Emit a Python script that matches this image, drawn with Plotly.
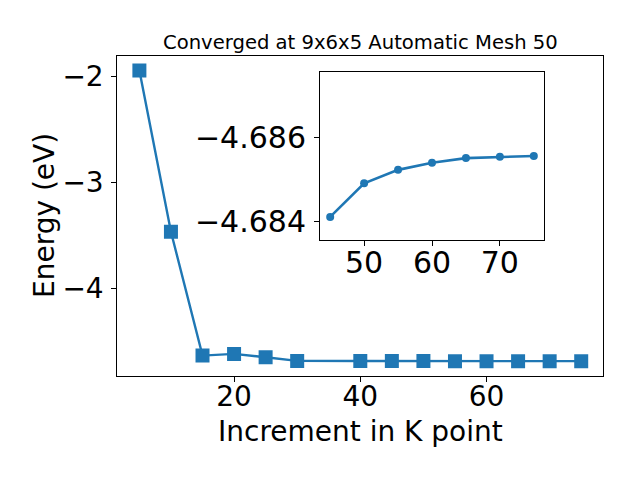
import plotly.graph_objects as go

# Main series
kpts = [5, 10, 15, 20, 25, 30, 40, 45, 50, 55, 60, 65, 70, 75]
energy = [-1.947, -3.466, -4.633, -4.617, -4.649, -4.683, -4.6838,
          -4.68410, -4.68490, -4.68522, -4.68539, -4.68550, -4.68553, -4.68555]

# Inset series
inset_k = [45, 50, 55, 60, 65, 70, 75]
inset_e = [-4.68410, -4.68490, -4.68522, -4.68539, -4.68550, -4.68553, -4.68555]

main_xticks = [20, 40, 60]
main_yticks = [-2, -3, -4]
inset_xticks = [50, 60, 70]
inset_yticks = [-4.686, -4.684]

title_text = "Converged at 9x6x5 Automatic Mesh 50"
xlabel = "Increment in K point"
ylabel = "Energy (eV)"

C = "#1f77b4"
FONT = "DejaVu Sans"


def minus(s):
    return s.replace("-", "\u2212")


fig = go.Figure()
fig.add_trace(go.Scatter(x=kpts, y=energy, mode="lines+markers",
                         line=dict(color=C, width=2.4),
                         marker=dict(symbol="square", size=14, color=C),
                         xaxis="x", yaxis="y", showlegend=False))
fig.add_trace(go.Scatter(x=inset_k, y=inset_e, mode="lines+markers",
                         line=dict(color=C, width=2.6),
                         marker=dict(symbol="circle", size=8, color=C),
                         xaxis="x2", yaxis="y2", showlegend=False))

ymin, ymax = min(energy), max(energy)
pad = (ymax - ymin) * 0.05
xpad = (max(kpts) - min(kpts)) * 0.05
ixpad = (max(inset_k) - min(inset_k)) * 0.05

axis_common = dict(showgrid=False, zeroline=False, showline=True, linecolor="black",
                   linewidth=1, mirror=True, ticks="outside", ticklen=5, tickwidth=1,
                   tickcolor="black", automargin=False)
main_font = dict(family=FONT, size=28, color="black")
inset_font = dict(family=FONT, size=30, color="black")

fig.update_layout(
    width=640, height=480,
    margin=dict(l=0, r=0, t=0, b=0, autoexpand=False),
    paper_bgcolor="white", plot_bgcolor="white",
    xaxis=dict(domain=[117.3 / 640, 603.3 / 640], anchor="y",
               range=[min(kpts) - xpad, max(kpts) + xpad],
               tickvals=main_xticks, ticktext=[str(v) for v in main_xticks],
               ticklabelstandoff=-9, tickfont=main_font, **axis_common),
    yaxis=dict(domain=[1 - 375.7 / 480, 1 - 56 / 480], anchor="x",
               range=[ymin - pad, ymax + pad],
               tickvals=main_yticks, ticktext=[minus(str(v)) for v in main_yticks],
               ticklabelstandoff=2, tickfont=main_font, **axis_common),
    xaxis2=dict(domain=[0.5, 0.85], anchor="y2",
                range=[min(inset_k) - ixpad, max(inset_k) + ixpad],
                tickvals=inset_xticks, ticktext=[str(v) for v in inset_xticks],
                ticklabelstandoff=-9, tickfont=inset_font, **axis_common),
    yaxis2=dict(domain=[0.5, 0.85], anchor="x2",
                range=[-4.68355, -4.68755],
                tickvals=inset_yticks, ticktext=[minus(f"{v:.3f}") for v in inset_yticks],
                ticklabelstandoff=2, tickfont=inset_font, **axis_common),
    annotations=[
        dict(text=title_text, xref="paper", yref="paper", x=360 / 640, y=1 - 42 / 480,
             showarrow=False, xanchor="center", yanchor="middle",
             font=dict(family=FONT, size=19.6, color="black")),
        dict(text=xlabel, xref="paper", yref="paper", x=360 / 640, y=1 - 431 / 480,
             showarrow=False, xanchor="center", yanchor="middle",
             font=dict(family=FONT, size=28, color="black")),
        dict(text=ylabel, xref="paper", yref="paper", x=45 / 640, y=1 - 216 / 480,
             showarrow=False, xanchor="center", yanchor="middle", textangle=-90,
             font=dict(family=FONT, size=28, color="black")),
    ],
)

fig.write_html("out.html", config={"displayModeBar": False},
               post_script="document.body.style.margin='0';document.body.style.overflow='hidden';")
